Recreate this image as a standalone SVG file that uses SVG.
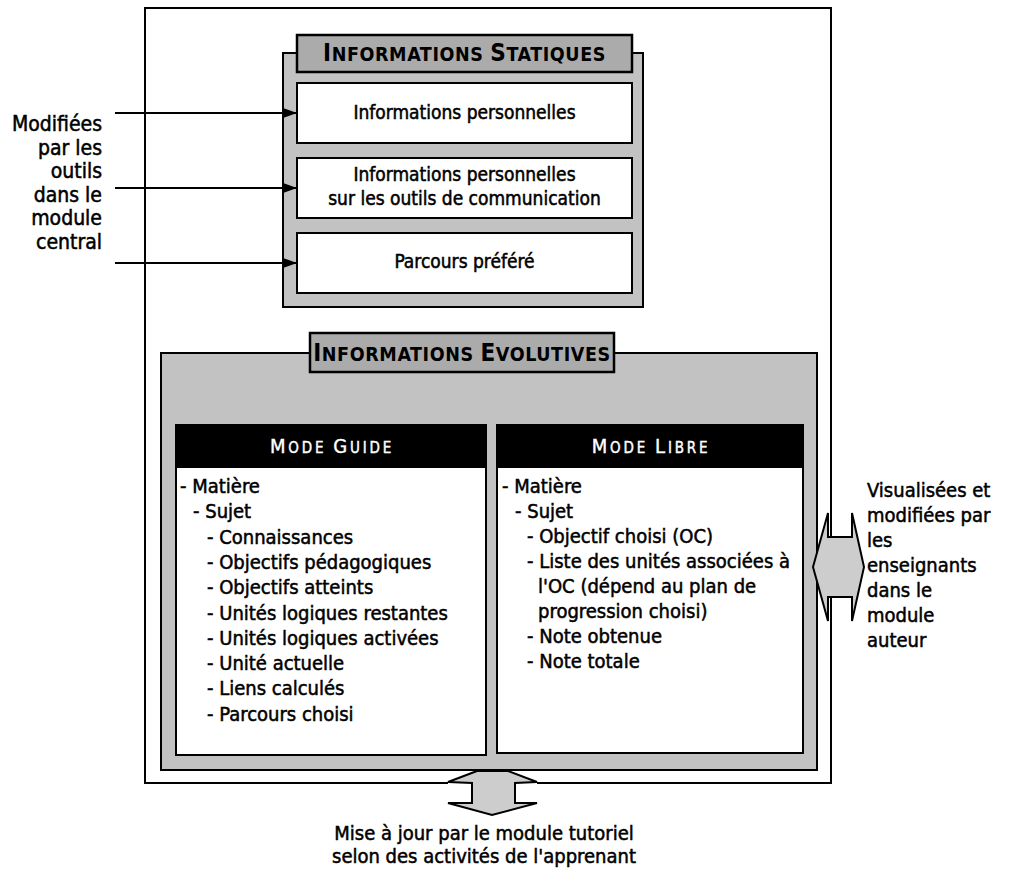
<svg xmlns="http://www.w3.org/2000/svg" width="1013" height="874" viewBox="0 0 1013 874">
<defs>
<style>
text{font-family:"DejaVu Sans Condensed","DejaVu Sans",sans-serif;font-stretch:condensed;fill:#000}
.t{font-size:19px;stroke:#000;stroke-width:0.5}
.l{font-size:20px;stroke:#000;stroke-width:0.5}
.big{font-size:21px}
.h{font-weight:bold;font-size:19.5px;letter-spacing:0.6px}
.h .b{font-size:24px}
.m{font-size:15px;fill:#fff;stroke:#fff;stroke-width:0.4;letter-spacing:2.8px}
.m .b{font-size:20px}
.shade{fill:#c2c2c2;stroke:#000;stroke-width:2}
.tab{fill:#ababab;stroke:#000;stroke-width:2.5}
.box{fill:#fff;stroke:#000;stroke-width:2}
.frame{fill:none;stroke:#000;stroke-width:2}
.arr{fill:#cdcdcd;stroke:#000;stroke-width:2}
.c{stroke:#000;stroke-width:2;fill:none}
</style>
<marker id="ah" markerWidth="14" markerHeight="10" refX="14" refY="5" orient="auto" markerUnits="userSpaceOnUse"><path d="M0,0 L14,5 L0,10 Z" fill="#000"/></marker>
</defs>
<rect width="1013" height="874" fill="#fff"/>
<g id="frame">
<path class="frame" d="M537,783 H831 V597 M831,537 V8 H145 V783 H448"/>
</g>
<g id="static-info">
<rect class="shade" x="283" y="53" width="360" height="254"/>
<rect class="tab" x="297" y="35" width="335" height="37"/>
<text class="h" x="464.5" y="61" text-anchor="middle"><tspan class="b">I</tspan>NFORMATIONS <tspan class="b">S</tspan>TATIQUES</text>
</g>
<g id="box-perso">
<rect class="box" x="297" y="83" width="335" height="60"/>
<text class="t" x="464.5" y="119" text-anchor="middle">Informations personnelles</text>
</g>
<g id="box-comm">
<rect class="box" x="297" y="158" width="335" height="60"/>
<text class="t" x="464.5" y="181" text-anchor="middle">Informations personnelles</text>
<text class="t" x="464.5" y="205" text-anchor="middle">sur les outils de communication</text>
</g>
<g id="box-parcours">
<rect class="box" x="297" y="233" width="335" height="60"/>
<text class="t" x="464.5" y="268" text-anchor="middle">Parcours préféré</text>
</g>
<g id="label-left">
<text class="l big" x="102" y="131" text-anchor="end">Modifiées</text>
<text class="l big" x="102" y="154.5" text-anchor="end">par les</text>
<text class="l big" x="102" y="178" text-anchor="end">outils</text>
<text class="l big" x="102" y="201.5" text-anchor="end">dans le</text>
<text class="l big" x="102" y="225" text-anchor="end">module</text>
<text class="l big" x="102" y="248.5" text-anchor="end">central</text>
</g>
<g id="evolutive-info">
<rect class="shade" x="161" y="353" width="656" height="417"/>
<rect class="tab" x="310" y="333" width="304" height="39"/>
<text class="h" x="462" y="361" text-anchor="middle"><tspan class="b">I</tspan>NFORMATIONS <tspan class="b">E</tspan>VOLUTIVES</text>
</g>
<g id="mode-guide">
<rect class="box" x="176" y="425" width="310" height="330"/>
<rect x="176" y="425" width="310" height="43" fill="#000"/>
<text class="m" x="332" y="453" text-anchor="middle"><tspan class="b">M</tspan>ODE <tspan class="b">G</tspan>UIDE</text>
<text class="l" x="180" y="493">- Matière</text>
<text class="l" x="193" y="518.3">- Sujet</text>
<text class="l" x="207" y="543.6">- Connaissances</text>
<text class="l" x="207" y="568.9">- Objectifs pédagogiques</text>
<text class="l" x="207" y="594.2">- Objectifs atteints</text>
<text class="l" x="207" y="619.5">- Unités logiques restantes</text>
<text class="l" x="207" y="644.8">- Unités logiques activées</text>
<text class="l" x="207" y="670.1">- Unité actuelle</text>
<text class="l" x="207" y="695.4">- Liens calculés</text>
<text class="l" x="207" y="720.7">- Parcours choisi</text>
</g>
<g id="mode-libre">
<rect class="box" x="497" y="425" width="306" height="328"/>
<rect x="497" y="425" width="306" height="43" fill="#000"/>
<text class="m" x="651" y="453" text-anchor="middle"><tspan class="b">M</tspan>ODE <tspan class="b">L</tspan>IBRE</text>
<text class="l" x="502" y="493">- Matière</text>
<text class="l" x="515" y="518">- Sujet</text>
<text class="l" x="527" y="543">- Objectif choisi (OC)</text>
<text class="l" x="527" y="568">- Liste des unités associées à</text>
<text class="l" x="538" y="593">l'OC (dépend au plan de</text>
<text class="l" x="538" y="618">progression choisi)</text>
<text class="l" x="527" y="643">- Note obtenue</text>
<text class="l" x="527" y="668">- Note totale</text>
</g>
<g id="label-right">
<text class="l" x="867" y="497">Visualisées et</text>
<text class="l" x="867" y="522">modifiées par</text>
<text class="l" x="867" y="547">les</text>
<text class="l" x="867" y="572">enseignants</text>
<text class="l" x="867" y="597">dans le</text>
<text class="l" x="867" y="622">module</text>
<text class="l" x="867" y="647">auteur</text>
</g>
<g id="label-bottom">
<text class="l" x="484" y="840" text-anchor="middle">Mise à jour par le module tutoriel</text>
<text class="l" x="484" y="863" text-anchor="middle">selon des activités de l'apprenant</text>
</g>
<g id="connectors">
<line class="c" x1="115" y1="113" x2="297" y2="113" marker-end="url(#ah)"/>
<line class="c" x1="115" y1="188" x2="297" y2="188" marker-end="url(#ah)"/>
<line class="c" x1="115" y1="263" x2="297" y2="263" marker-end="url(#ah)"/>
<polygon class="arr" points="813,567 828,513 828,537 852,537 852,513 864,567 852,621 852,597 828,597 828,621"/>
<polygon class="arr" points="477,771 448,782 472,783 472,803 448,803 492,815 537,803 515,803 515,783 537,782 508,771"/>
</g>
</svg>
